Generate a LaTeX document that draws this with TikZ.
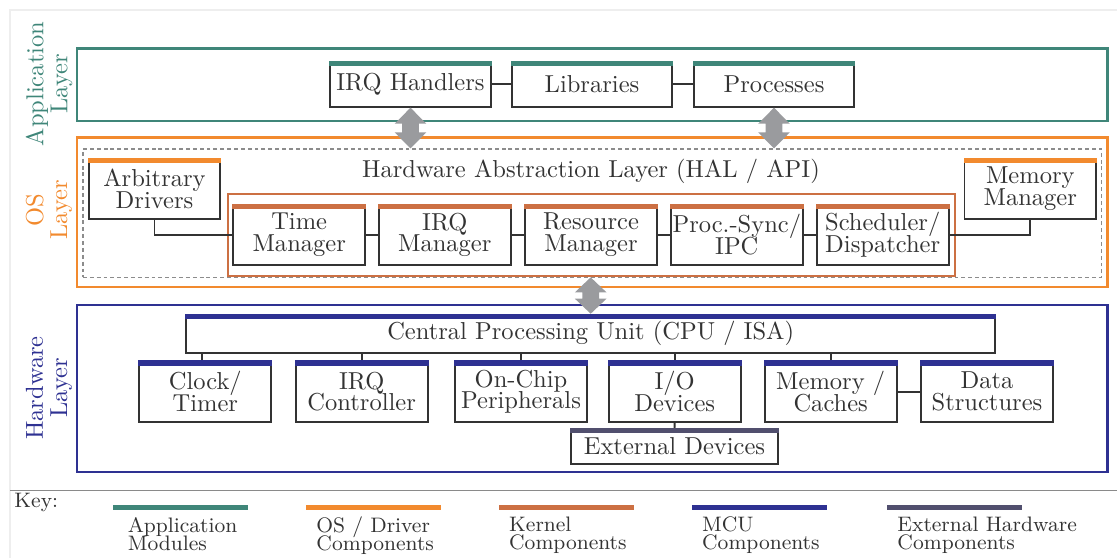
\documentclass[tikz,border=0pt]{standalone}
\usetikzlibrary{calc}
\definecolor{appc}{HTML}{3F8679}
\definecolor{osc}{HTML}{F28A2E}
\definecolor{kerc}{HTML}{CC7043}
\definecolor{mcuc}{HTML}{2E3192}
\definecolor{extc}{HTML}{514F6E}
\definecolor{boxc}{HTML}{333333}
\definecolor{txtc}{HTML}{333333}
\definecolor{arrc}{HTML}{9A9B9E}
\definecolor{keyc}{HTML}{8A8A8A}
\definecolor{framec}{HTML}{EEEEEE}
\definecolor{dashc}{HTML}{8C8C8C}
\newcommand\nolsk{\lineskiplimit=-100pt\relax}
\begin{document}
\begin{tikzpicture}[x=0.408pt,y=-0.408pt,
  layerbox/.style 2 args={draw, line width=1pt, inner sep=0pt, minimum width=#1*0.408pt, minimum height=#2*0.408pt},
  comp/.style 2 args={draw=boxc, line width=0.8pt, fill=white, inner sep=0pt,
     minimum width=#1*0.408pt, minimum height=#2*0.408pt, align=center, text=txtc,
     font=\fontsize{10}{8.9}\selectfont\nolsk},
  conn/.style={draw=boxc, line width=0.8pt},
  lbl/.style={rotate=90, align=center, inner sep=0pt, font=\fontsize{10}{9.8}\selectfont\nolsk},
  legbar/.style={line width=2.1pt},
  legtxt/.style={anchor=north west, align=left, inner sep=0pt, text=txtc, font=\fontsize{8.55}{7.4}\selectfont\nolsk}
]
\useasboundingbox (0,0) rectangle (1117,558);
% faint frame and key separator
\draw[framec, line width=0.6pt] (1117,10) -- (10,10) -- (10,558);
\draw[keyc, line width=0.6pt] (10,490.7) -- (1117,490.7);

% layer boxes
\node[layerbox={1030.2}{72.2}, draw=appc] (app) at (592.35,84.65) {};
\node[layerbox={1030.2}{149.2}, draw=osc] (os) at (592.35,212.15) {};
\node[draw=dashc, dashed, dash pattern=on 1.6pt off 1.2pt, line width=0.45pt, inner sep=0pt,
      minimum width=1018.8*0.408pt, minimum height=128.1*0.408pt] (dsh) at (592.35,213) {};
\node[layerbox={727.6}{82.6}, draw=kerc, line width=0.85pt] (ker) at (591.5,235) {};
\node[layerbox={1030.2}{166.8}, draw=mcuc] (hw) at (592.35,388.65) {};

% layer labels
\node[lbl, text=appc] (applbl) at (49,84) {Application\\Layer};
\node[lbl, text=osc] (oslbl) at (49,210) {OS\\Layer};
\node[lbl, text=mcuc] (hwlbl) at (49,388) {Hardware\\Layer};

% application modules
\node[comp={160.5}{44.7}] (irqh) at (410.5,84.35) {IRQ Handlers};
\node[comp={160.5}{44.7}] (libs) at (592,84.35) {Libraries};
\node[comp={160.5}{44.7}] (procs) at (774,84.35) {Processes};

% HAL
\node[anchor=base, inner sep=0pt, text=txtc, font=\fontsize{10}{8.9}\selectfont] (hal) at (591,177.3) {Hardware Abstraction Layer (HAL / API)};

% OS components
\node[comp={131.6}{60.5}] (drv) at (154.5,188.75) {Arbitrary\\Drivers};
\node[comp={131.6}{60.5}] (mem) at (1030.3,188.75) {Memory\\Manager};

% kernel components
\node[comp={131.7}{60.3}] (time) at (299.2,234.85) {Time\\Manager};
\node[comp={131.7}{60.3}] (irqm) at (444.8,234.85) {IRQ\\Manager};
\node[comp={131.7}{60.3}] (res) at (591,234.85) {Resource\\Manager};
\node[comp={131.7}{60.3}] (psync) at (736.8,234.85) {Proc.-Sync/\\IPC};
\node[comp={131.7}{60.3}] (sched) at (882.7,234.85) {Scheduler/\\Dispatcher};

% hardware
\node[comp={808.7}{38}] (cpu) at (590.7,333.7) {Central Processing Unit (CPU / ISA)};
\node[comp={132}{60.7}] (clk) at (205.3,391.65) {Clock/\\Timer};
\node[comp={132}{60.7}] (irqc) at (361.7,391.65) {IRQ\\Controller};
\node[comp={132}{60.7}] (onchip) at (521,391.65) {On-Chip\\Peripherals};
\node[comp={132}{60.7}] (io) at (674.7,391.65) {I/O\\Devices};
\node[comp={132}{60.7}] (memc) at (830.7,391.65) {Memory /\\Caches};
\node[comp={132}{60.7}] (ds) at (987,391.65) {Data\\Structures};
\node[comp={207}{35}] (ext) at (674.5,446.5) {External Devices};

% connectors
\draw[conn] (irqh.east) -- (libs.west);
\draw[conn] (libs.east) -- (procs.west);
\draw[conn] (drv.south) |- (time.west);
\draw[conn] (mem.south) |- (sched.east);
\draw[conn] (time.east) -- (irqm.west);
\draw[conn] (irqm.east) -- (res.west);
\draw[conn] (res.east) -- (psync.west);
\draw[conn] (psync.east) -- (sched.west);
\draw[conn] ([xshift=-3.3*0.408pt]cpu.south -| clk.north) -- ([xshift=-3.3*0.408pt]clk.north);
\draw[conn] (cpu.south -| irqc.north) -- (irqc.north);
\draw[conn] (cpu.south -| onchip.north) -- (onchip.north);
\draw[conn] (cpu.south -| io.north) -- (io.north);
\draw[conn] (cpu.south -| memc.north) -- (memc.north);
\draw[conn] (memc.east) -- (ds.west);
\draw[conn] (io.south) -- (ext.north);

% colour bars
\foreach \n/\c in {irqh/appc,libs/appc,procs/appc,drv/osc,mem/osc,time/kerc,irqm/kerc,res/kerc,psync/kerc,sched/kerc,cpu/mcuc,clk/mcuc,irqc/mcuc,onchip/mcuc,io/mcuc,memc/mcuc,ds/mcuc,ext/extc}
  \fill[\c] (\n.north west) rectangle ([yshift=-2.2pt]\n.north east);

% big double arrows
\coordinate (a1t) at (irqh.south);
\coordinate (a1b) at (irqh.south |- dsh.north);
\coordinate (a2t) at (procs.south);
\coordinate (a2b) at (procs.south |- dsh.north);
\coordinate (a3t) at (ker.south -| cpu.north);
\coordinate (a3b) at (cpu.north);
\foreach \t/\b/\h in {a1t/a1b/16, a2t/a2b/16, a3t/a3b/15}
  \fill[arrc] (\t) -- ($(\t)+(15.8,\h)$) -- ($(\t)+(8.3,\h)$) -- ($(\b)+(8.3,-\h)$) -- ($(\b)+(15.8,-\h)$)
     -- (\b) -- ($(\b)+(-15.8,-\h)$) -- ($(\b)+(-8.3,-\h)$) -- ($(\t)+(-8.3,\h)$) -- ($(\t)+(-15.8,\h)$) -- cycle;

% key
\node[anchor=base west, inner sep=0pt, text=txtc, font=\fontsize{8.55}{7.4}\selectfont] (key) at (14,507) {Key:};
\draw[legbar, appc] (113.3,507.8) -- (248.3,507.8);
\draw[legbar, osc] (306,507.8) -- (441,507.8);
\draw[legbar, kerc] (499,507.8) -- (634,507.8);
\draw[legbar, mcuc] (692,507.8) -- (826.7,507.8);
\draw[legbar, extc] (887.3,507.8) -- (1022.3,507.8);
\node[legtxt] (k1) at (127.3,516.5) {Application\\Modules};
\node[legtxt] (k2) at (316,516.5) {OS / Driver\\Components};
\node[legtxt] (k3) at (508.7,516.5) {Kernel\\Components};
\node[legtxt] (k4) at (701.7,516.5) {MCU\\Components};
\node[legtxt] (k5) at (897,516.5) {External Hardware\\Components};
\end{tikzpicture}
\end{document}
